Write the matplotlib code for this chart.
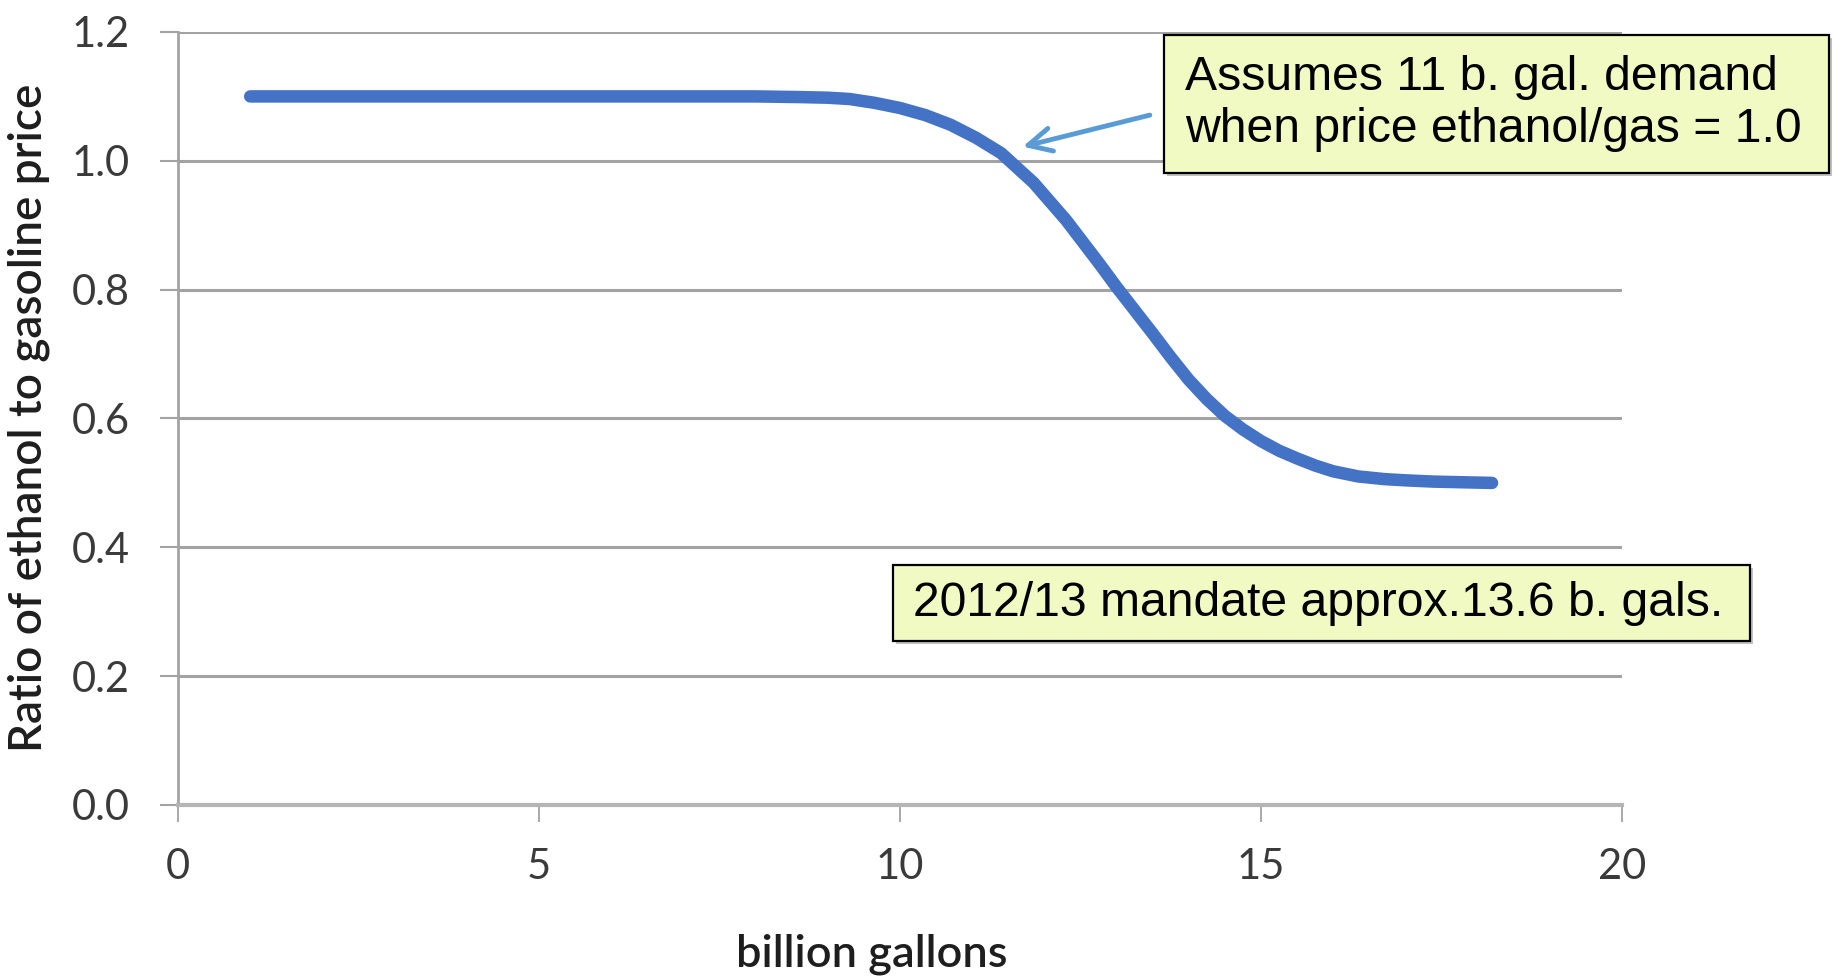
import matplotlib
matplotlib.use("Agg")
import matplotlib.pyplot as plt
from matplotlib.patches import Rectangle

# Ethanol demand curve: quantity (billion gallons) vs. price ratio
quantity = [1.0, 2.0, 3.0, 4.0, 5.0, 6.0, 7.0, 8.0, 8.6, 9.0, 9.3, 9.65,
            10.0, 10.35, 10.7, 11.05, 11.4, 11.85, 12.3, 12.75, 13.0, 13.25,
            13.5, 13.75, 14.0, 14.25, 14.5, 14.75, 15.0, 15.25, 15.5, 15.75,
            16.0, 16.35, 16.7, 17.0, 17.4, 17.8, 18.2]
price_ratio = [1.1, 1.1, 1.1, 1.1, 1.1, 1.1, 1.1, 1.1, 1.099, 1.098, 1.096,
               1.090, 1.082, 1.071, 1.056, 1.036, 1.012, 0.966, 0.908, 0.842,
               0.804, 0.768, 0.732, 0.695, 0.660, 0.630, 0.604, 0.583, 0.565,
               0.550, 0.538, 0.527, 0.518, 0.510, 0.506, 0.504, 0.502, 0.501,
               0.500]

x_ticks = [0, 5, 10, 15, 20]
y_ticks = [0.0, 0.2, 0.4, 0.6, 0.8, 1.0, 1.2]

note_demand = "Assumes 11 b. gal. demand\nwhen price ethanol/gas = 1.0"
note_mandate = "2012/13 mandate approx.13.6 b. gals."

W, H = 1835, 980
fig = plt.figure(figsize=(W / 100, H / 100), dpi=100)
fig.patch.set_facecolor("white")

ax = fig.add_axes([178 / W, 1 - 805 / H, 1444 / W, 773 / H])
ax.set_xlim(0, 20)
ax.set_ylim(0, 1.2)

grid_c = "#a3a3a3"
ax.set_yticks(y_ticks)
ax.set_xticks(x_ticks)
ax.set_yticklabels([f"{v:.1f}" for v in y_ticks])
ax.set_xticklabels([str(v) for v in x_ticks])
ax.grid(axis="y", color=grid_c, lw=2.2, zorder=0)
ax.set_axisbelow(True)
for s in ("top", "right"):
    ax.spines[s].set_visible(False)
ax.spines["left"].set_color(grid_c)
ax.spines["left"].set_linewidth(2.0)
ax.spines["bottom"].set_color("#b5b5b5")
ax.spines["bottom"].set_linewidth(3.0)

ax.tick_params(axis="y", direction="out", length=13, width=1.5, color=grid_c, pad=22)
ax.tick_params(axis="x", direction="out", length=12, width=1.3, color=grid_c, pad=19)
for lab in ax.get_yticklabels() + ax.get_xticklabels():
    lab.set_fontfamily(["Lato", "DejaVu Sans"])
    lab.set_fontweight("normal")
    lab.set_fontsize(30)
    lab.set_color("#3a3a3a")

ax.plot(quantity, price_ratio, color="#4472C4", lw=9, solid_capstyle="round",
        solid_joinstyle="round", zorder=3)

ax.annotate("", xy=(11.7, 1.022), xytext=(13.46, 1.071),
            arrowprops=dict(arrowstyle="->", color="#5B9BD5", lw=3.5,
                            mutation_scale=42, shrinkA=0, shrinkB=0),
            annotation_clip=False, zorder=4)

fig.text(29 / W, 1 - 418 / H, "Ratio of ethanol to gasoline price",
         rotation=90, ha="center", va="center", fontsize=33,
         fontweight=600, family=["Lato", "DejaVu Sans"], color="#1e1e1e")
fig.text(872 / W, 1 - 954 / H, "billion gallons", ha="center", va="center",
         fontsize=32.5, fontweight=600, family=["Lato", "DejaVu Sans"],
         color="#1e1e1e")


def note_box(x0, y0, x1, y1, text, tx):
    """Pale yellow callout with a thin black border and soft shadow (pixel coords)."""
    shadow = Rectangle(((x0 + 3) / W, 1 - (y1 + 3) / H), (x1 - x0) / W,
                       (y1 - y0) / H, transform=fig.transFigure,
                       facecolor="#9a9a9a", edgecolor="none", alpha=0.6, zorder=5)
    box = Rectangle((x0 / W, 1 - y1 / H), (x1 - x0) / W, (y1 - y0) / H,
                    transform=fig.transFigure, facecolor="#F0FAC2",
                    edgecolor="black", lw=1.6, zorder=6)
    fig.patches.extend([shadow, box])
    fig.text(tx / W, 1 - (y0 + y1) / 2 / H, text, ha="left", va="center",
             fontsize=34.7, family=["Liberation Sans", "DejaVu Sans"],
             color="black", linespacing=1.2, zorder=7)


note_box(1164, 35, 1829, 173, note_demand, 1185)
note_box(893, 565, 1750, 641, note_mandate, 913)

fig.savefig("out.png", dpi=100, facecolor="white")
